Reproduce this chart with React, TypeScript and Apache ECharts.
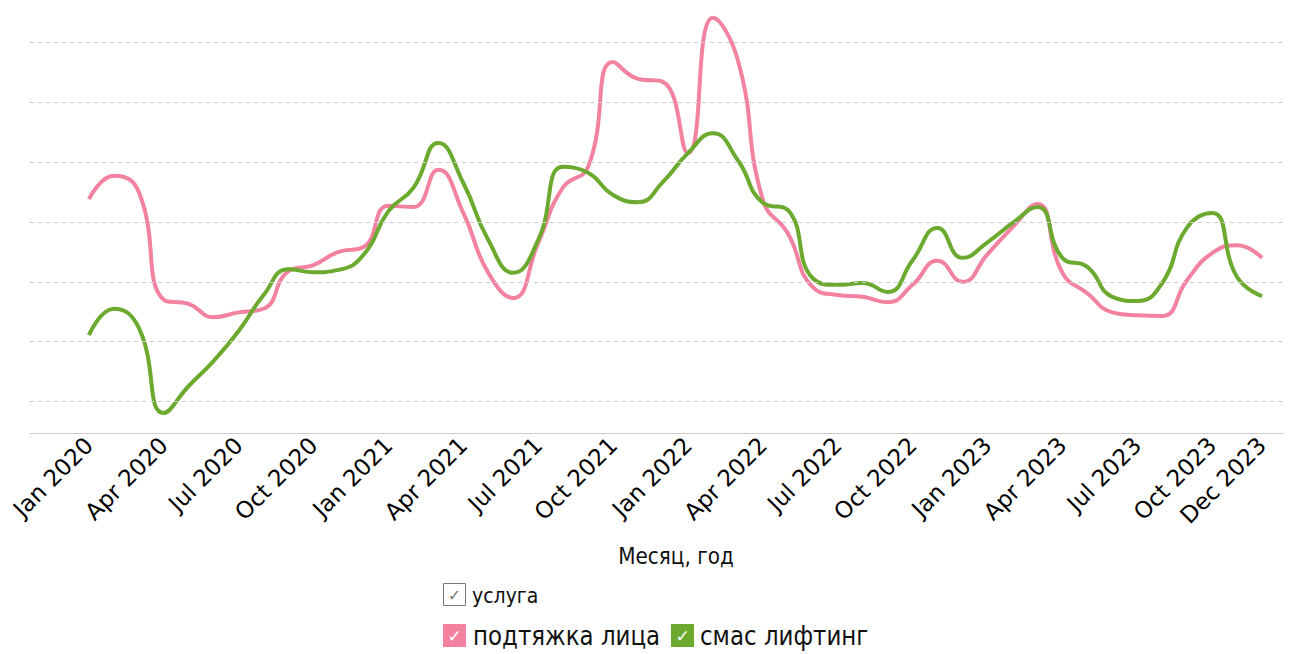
import React, { useEffect, useRef } from "react";
import * as echarts from "echarts";

// month index 0 = Jan 2020 ... 47 = Dec 2023
const tickIndices = [0, 3, 6, 9, 12, 15, 18, 21, 24, 27, 30, 33, 36, 39, 42, 45, 47];
const tickLabels = [
  "Jan 2020", "Apr 2020", "Jul 2020", "Oct 2020",
  "Jan 2021", "Apr 2021", "Jul 2021", "Oct 2021",
  "Jan 2022", "Apr 2022", "Jul 2022", "Oct 2022",
  "Jan 2023", "Apr 2023", "Jul 2023", "Oct 2023", "Dec 2023",
];

const faceliftValues = [
  43.8, 47.7, 45.0, 27.0, 26.3, 24.1, 24.9, 25.5, 31.8, 32.8, 35.0, 35.8,
  42.7, 42.5, 48.7, 41.5, 31.5, 27.3, 36.5, 45.8, 49.2, 66.7, 63.9, 63.4,
  51.5, 74.1, 67.0, 43.7, 38.1, 29.1, 27.8, 27.5, 26.6, 29.5, 33.5, 30.0,
  34.6, 39.1, 43.0, 31.5, 28.1, 24.9, 24.4, 24.3, 30.3, 34.8, 36.1, 34.0,
];

const smasValues = [
  21.1, 25.5, 22.3, 8.1, 12.6, 16.8, 21.8, 27.8, 32.1, 31.6, 32.0, 34.5,
  41.8, 45.7, 53.2, 46.5, 37.0, 31.5, 37.0, 49.2, 48.2, 44.5, 43.3, 46.7,
  51.5, 54.8, 50.3, 43.2, 42.0, 30.6, 29.5, 29.8, 28.3, 33.6, 39.0, 34.0,
  36.6, 39.8, 42.5, 34.0, 32.5, 27.5, 26.8, 29.8, 39.1, 41.5, 30.8, 27.6,
];

const gridValues = [10, 20, 30, 40, 50, 60, 70];

const seriesNames = ["подтяжка лица", "смас лифтинг"];
const legendTitle = "услуга";
const axisTitle = "Месяц, год";

const PINK = "#F2829F";
const GREEN = "#6BAA2E";
const FONT = "DejaVu Sans";

export default function App() {
  const ref = useRef<HTMLDivElement>(null);

  useEffect(() => {
    if (!ref.current) return;
    const chart = echarts.init(ref.current, undefined, { renderer: "svg" });
    const labelMap: Record<number, string> = {};
    tickIndices.forEach((t, i) => (labelMap[t] = tickLabels[i]));

    const txt = (
      text: string,
      x: number,
      y: number,
      size: number,
      fill: string,
      align = "left",
      sx = 1
    ) => ({
      type: "text",
      x,
      y,
      scaleX: sx,
      silent: true,
      style: {
        text,
        fill,
        fontSize: size,
        fontFamily: FONT,
        align,
        textAlign: align,
        verticalAlign: "middle",
        textVerticalAlign: "middle",
      },
    });

    chart.setOption({
      animation: false,
      backgroundColor: "#ffffff",
      grid: { left: 30, right: 7, top: 10, bottom: 220.7, containLabel: false },
      xAxis: {
        type: "value",
        min: -2.36,
        max: 47.84,
        axisLine: { show: true, lineStyle: { color: "#cccccc", width: 1 } },
        axisTick: { show: false },
        splitLine: { show: false },
        axisLabel: {
          customValues: tickIndices,
          formatter: (v: number) => labelMap[v] ?? "",
          rotate: 45,
          fontSize: 23,
          fontFamily: FONT,
          color: "#000",
          margin: 8,
        },
      },
      yAxis: { type: "value", min: 4.7, max: 75.4, show: false },
      series: [
        {
          type: "line",
          name: "grid",
          data: [],
          z: 1,
          silent: true,
          markLine: {
            silent: true,
            symbol: ["none", "none"],
            label: { show: false },
            lineStyle: { type: [4, 4], color: "#cccccc", width: 1 },
            data: gridValues.map((v) => ({ yAxis: v })),
          },
        },
        {
          type: "line",
          name: seriesNames[0],
          data: faceliftValues.map((v, i) => [i, v]),
          smooth: 0.5,
          symbol: "none",
          z: 3,
          lineStyle: { color: PINK, width: 4 },
          itemStyle: { color: PINK },
        },
        {
          type: "line",
          name: seriesNames[1],
          data: smasValues.map((v, i) => [i, v]),
          smooth: 0.5,
          symbol: "none",
          z: 4,
          lineStyle: { color: GREEN, width: 4 },
          itemStyle: { color: GREEN },
        },
      ],
      graphic: [
        txt(axisTitle, 676, 556, 23, "#111", "center", 0.87),
        {
          type: "rect",
          silent: true,
          shape: { x: 443.5, y: 583.5, width: 22, height: 22 },
          style: { fill: "#fff", stroke: "#777", lineWidth: 1 },
        },
        txt("✓", 454.5, 595, 16, "#777", "center"),
        txt(legendTitle, 472, 595, 22, "#111", "left", 0.86),
        {
          type: "rect",
          silent: true,
          shape: { x: 443, y: 624, width: 23, height: 23 },
          style: { fill: PINK },
        },
        txt("✓", 454.5, 636, 17, "#fff", "center"),
        txt(seriesNames[0], 473, 636, 27, "#111", "left", 0.85),
        {
          type: "rect",
          silent: true,
          shape: { x: 671, y: 624, width: 23, height: 23 },
          style: { fill: GREEN },
        },
        txt("✓", 682.5, 636, 17, "#fff", "center"),
        txt(seriesNames[1], 700, 636, 27, "#111", "left", 0.85),
      ],
    });

    return () => chart.dispose();
  }, []);

  return (
    <div
      ref={ref}
      style={{ position: "fixed", left: 0, top: 0, width: 1290, height: 654, background: "#fff" }}
    />
  );
}
